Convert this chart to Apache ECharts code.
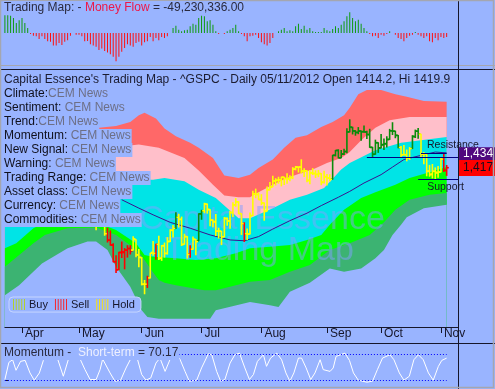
<!DOCTYPE html>
<html><head><meta charset="utf-8">
<script src="https://cdn.jsdelivr.net/npm/echarts@6.0.0/dist/echarts.min.js"></script>
<style>html,body{margin:0;padding:0;background:#99b4ff;overflow:hidden}#c{width:495px;height:389px}</style>
</head><body><div id="c"></div>
<script>
// ---------- DATA ----------
const X_MAX = 159;                       // trading-day slots on the x axis (last data day = 155)
const monthStartIdx = [6, 26, 48, 69, 90, 113, 132, 153];
const monthNames = ['Apr', 'May', 'Jun', 'Jul', 'Aug', 'Sep', 'Oct', 'Nov'];

// Money flow (millions), one bar per trading day 0..155
const moneyFlow = [212,212,208,180,120,152,180,120,60,-12,
-32,-40,-72,-40,-72,-100,-105,-150,-150,-120,
-144,-105,-88,-32,0,-20,-20,-40,-100,-96,
-135,-150,-165,-204,-186,-216,-234,-255,-285,-340,
-285,-225,-180,-135,-150,-165,-120,-105,-150,-112,
-100,-48,-100,-60,-88,-48,-60,-40,0,60,
88,40,20,32,40,80,112,100,180,208,
200,140,152,100,20,-12,0,-12,20,40,
60,100,20,-12,-40,-100,-40,-32,-20,-60,
-112,-135,-150,-120,-60,0,20,40,60,20,
32,20,80,112,48,88,40,60,20,12,
12,12,60,32,20,48,80,60,100,140,
200,248,180,140,160,112,60,20,-12,-40,
-32,-60,-20,-32,-12,20,0,-20,-60,-72,
-100,-60,-32,-20,12,-20,-40,-60,-40,-100,
-112,-60,-88,-48,-60,-49.2];

// Price bars (day 26 = May 1 ... day 155 = Nov 5)
const FIRST_BAR = 26;
const opens = [1397.9,1405.5,1402.3,1391.5,1368.8,1369.2,1363.2,1354.6,1358.1,1351.9,
1338.4,1330.8,1324.8,1305.1,1295.7,1316.1,1316.0,1318.7,1320.8,1318.9,
1331.3,1313.1,1309.9,1278.3,1277.8,1285.6,1316.1,1314.99,1325.7,1309.4,
1324.0,1314.9,1329.2,1342.4,1344.8,1358.0,1355.4,1325.9,1334.9,1314.1,
1320.0,1331.5,1330.1,1362.3,1365.8,1373.7,1367.1,1354.7,1352.96,1341.4,
1341.3,1334.8,1356.5,1353.7,1363.6,1373.0,1376.5,1362.3,1350.5,1338.4,
1338.2,1360.1,1385.9,1385.3,1379.3,1375.1,1365.5,1391.0,1394.5,1401.2,
1402.3,1402.6,1405.9,1404.4,1403.9,1405.6,1415.8,1417.9,1418.1,1413.1,
1413.5,1401.99,1411.1,1410.4,1409.3,1410.1,1400.1,1406.5,1404.9,1403.7,
1432.1,1437.9,1429.1,1433.6,1436.6,1460.1,1465.4,1461.2,1459.5,1461.1,
1460.3,1459.8,1456.9,1441.6,1433.4,1447.1,1440.9,1444.99,1446.1,1451.1,
1461.4,1460.9,1455.9,1441.5,1432.8,1432.8,1428.8,1440.3,1454.2,1460.9,
1457.3,1433.2,1433.7,1413.2,1409.7,1412.97,1410.99,1412.2,1427.6,1414.0];
const highs = [1415.3,1405.5,1403.1,1391.5,1373.9,1369.2,1363.7,1365.9,1365.7,1351.9,
1344.9,1341.8,1326.4,1312.2,1316.4,1328.5,1320.7,1324.1,1324.2,1334.9,
1331.3,1319.7,1309.9,1282.6,1287.6,1315.1,1329.1,1325.8,1335.5,1324.3,
1327.3,1333.7,1343.3,1348.2,1363.5,1361.6,1358.3,1337.8,1334.9,1324.2,
1334.4,1331.5,1362.2,1366.4,1374.8,1373.9,1367.1,1354.9,1361.5,1345.0,
1341.3,1357.7,1357.3,1365.4,1375.3,1380.4,1376.5,1362.3,1351.5,1344.0,
1363.1,1389.2,1391.7,1387.2,1385.0,1375.1,1394.2,1399.6,1407.1,1404.1,
1405.9,1406.0,1405.9,1410.0,1407.7,1417.4,1418.7,1418.1,1426.7,1416.1,
1413.5,1413.5,1416.2,1413.6,1414.0,1410.1,1413.1,1409.3,1408.8,1432.1,
1437.9,1438.7,1437.8,1439.2,1463.8,1474.5,1465.6,1461.5,1465.2,1461.2,
1467.1,1460.7,1463.2,1441.6,1450.2,1447.1,1457.1,1451.5,1454.3,1463.1,
1471.0,1460.9,1455.9,1442.5,1443.9,1438.4,1441.3,1455.5,1462.2,1464.0,
1457.3,1435.5,1433.7,1420.0,1421.1,1417.1,1418.8,1428.4,1434.3,1419.9];
const lows = [1395.7,1393.9,1388.7,1367.9,1365.0,1347.8,1343.1,1354.6,1348.9,1336.6,
1328.5,1324.8,1304.9,1292.0,1295.7,1310.0,1296.5,1310.5,1314.2,1318.9,
1310.8,1298.9,1277.3,1266.7,1274.2,1285.6,1312.7,1307.8,1307.7,1306.6,
1310.5,1314.1,1329.2,1334.5,1344.8,1346.5,1324.4,1325.9,1309.3,1310.3,
1320.0,1313.3,1330.1,1355.7,1363.5,1363.0,1348.0,1346.7,1336.3,1333.2,
1325.4,1334.8,1348.5,1345.1,1359.0,1371.2,1362.2,1337.6,1329.2,1331.5,
1338.2,1360.1,1381.4,1379.2,1373.1,1354.6,1365.5,1391.0,1394.5,1396.6,
1398.8,1395.6,1397.3,1398.6,1401.6,1404.2,1414.7,1412.1,1410.9,1406.8,
1400.5,1398.0,1409.1,1405.6,1406.6,1397.0,1399.0,1396.6,1401.3,1403.7,
1431.4,1429.1,1429.1,1433.0,1435.3,1460.1,1457.6,1456.1,1457.9,1450.0,
1459.5,1452.1,1441.6,1430.5,1433.4,1435.6,1440.9,1439.0,1442.0,1451.1,
1456.9,1453.1,1441.2,1430.6,1432.8,1425.5,1427.2,1440.3,1453.4,1452.6,
1429.9,1422.1,1407.6,1407.1,1405.1,1403.3,1406.0,1412.2,1412.9,1408.1];
const closes = [1405.8,1402.3,1391.6,1369.1,1369.6,1363.7,1354.6,1358.0,1353.4,1338.4,
1330.7,1325.0,1304.9,1295.2,1316.0,1316.6,1318.9,1320.7,1317.8,1332.4,
1313.3,1310.3,1278.0,1278.2,1285.5,1315.1,1315.0,1325.7,1308.9,1324.2,
1314.9,1329.1,1342.8,1344.8,1358.0,1355.7,1325.5,1335.0,1313.7,1320.0,
1331.9,1329.0,1362.2,1365.5,1374.0,1367.6,1354.7,1352.5,1341.5,1341.5,
1334.8,1356.8,1353.6,1363.7,1372.8,1376.5,1362.7,1350.5,1338.3,1337.9,
1360.0,1386.0,1385.3,1379.3,1375.3,1365.0,1391.0,1394.2,1401.4,1402.2,
1402.8,1405.9,1404.1,1403.9,1405.5,1415.5,1418.2,1418.1,1413.2,1413.5,
1402.1,1411.1,1410.4,1409.3,1410.5,1399.5,1406.6,1404.9,1403.4,1432.1,
1437.9,1429.1,1433.6,1436.6,1460.0,1465.8,1461.2,1459.3,1461.1,1460.3,
1460.2,1456.9,1441.6,1433.3,1447.2,1440.7,1444.5,1445.8,1451.0,1461.4,
1460.9,1455.9,1441.5,1432.6,1432.8,1428.6,1440.1,1454.9,1460.9,1457.3,
1433.2,1433.8,1413.1,1408.8,1413.0,1411.9,1412.2,1427.6,1414.2,1417.3];
// Signal of each bar, as runs: B = Buy, S = Sell, H = Hold
const signalRuns = [['H',10],['S',9],['H',5],['S',1],['H',2],['S',1],['H',6],['B',1],['H',4],['S',1],
['H',2],['B',2],['H',14],['S',1],['H',30],['B',24],['H',4],['B',3],['H',8],['S',2]];

// Band boundaries [day, price], top to bottom
const bandRedTop = [[0,1465],[33,1465],[39,1467],[44,1472],[47,1480],[49,1483],[53,1476],[56,1464],[60,1455],[65,1447],[68,1441],[73,1429],[77,1408],[82,1405],[86,1409],[89,1417],[94,1427],[98,1441],[102,1453],[106,1456],[111,1466],[115,1472],[119,1480],[121,1489],[124,1505],[127,1510],[132,1510],[137,1505],[141,1502],[147,1497],[155,1496]];
const bandPinkTop = [[0,1442],[39,1442],[47,1445],[54,1441],[63,1429],[68,1414],[73,1397],[77,1384],[82,1382],[86,1382],[89,1388],[94,1397],[99,1405],[104,1411],[108,1415],[113,1423],[118,1429],[121,1436],[125,1450],[130,1465],[135,1474],[142,1478],[155,1478]];
const bandCyanTop = [[0,1403],[39,1403],[52,1403],[56,1405],[63,1401],[68,1391],[74,1381],[82,1357],[86,1357],[94,1369],[100,1379],[106,1385],[112,1393],[118,1415],[121,1423],[130,1438],[139,1447],[146,1450],[155,1454]];
const bandGreenTop = [[0,1321],[4,1327],[7,1336],[10,1345],[16,1355],[23,1361],[32,1352],[39,1343],[46,1327],[49,1313],[52,1311],[60,1309],[67,1307],[74,1309],[81,1315],[86,1321],[93,1323],[100,1325],[106,1331],[111,1337],[114,1349],[119,1367],[125,1381],[130,1388],[137,1397],[142,1405],[149,1412],[155,1418]];
const bandDarkTop = [[0,1299],[5,1313],[10,1327],[14,1337],[22,1345],[32,1346],[39,1337],[43,1327],[47,1317],[49,1307],[52,1292],[54,1283],[56,1280],[60,1277],[70,1271],[74,1271],[86,1281],[93,1283],[100,1293],[107,1301],[114,1319],[121,1327],[128,1337],[133,1352],[137,1367],[142,1379],[149,1385],[155,1387]];
const bandDarkBottom = [[0,1265],[5,1277],[13,1303],[22,1321],[29,1329],[32,1329],[36,1319],[39,1299],[44,1275],[48,1247],[50,1239],[54,1237],[72,1237],[74,1247],[86,1257],[93,1253],[96,1251],[100,1269],[107,1280],[114,1297],[119,1293],[125,1297],[130,1309],[133,1319],[136,1337],[139,1349],[141,1358],[147,1369],[155,1373]];

// Moving average line [day, price]
const maLine = [[41,1379],[47,1369],[52,1361],[58,1352],[65,1345],[72,1337],[79,1331],[84,1330],[89,1335],[94,1344],[100,1354],[106,1363],[111,1372],[117,1382],[121,1389],[126,1399],[132,1409],[136,1418],[140,1427],[146,1432],[151,1436],[155,1435]];

// Levels
const pivotLine = [[127,1430],[159,1430]];
const resistanceLine = [[146,1434],[155,1434]];
const supportLine = [[145,1403],[159,1403]];
const priceTags = [1434, 1417];

// Momentum (short-term) vertices [day, value]
const momentum = [[0,21.5],[1.4,60.5],[2.7,66.5],[3.9,42.5],[5.5,62.8],[7.1,65],[8.8,36.5],[10.3,20],[12.1,36.5],[13.5,65],[15.8,81.5],[18.4,70.3],[20.5,29],[22.3,68],[24.2,81.5],[26.4,68],[28.1,44],[29.9,21.5],[32,21.5],[33.4,44],[34.3,68],[36.9,36.5],[38.6,17.8],[40.6,20],[42.5,47.8],[44.1,68],[45.1,81.5],[46.5,68],[48,32.8],[49.5,20],[51.2,25.3],[53,59],[54.4,70.3],[56.2,40],[57.9,66.5],[59.7,81.5],[61.4,68],[63.2,40],[64.7,17.8],[67.3,20],[69,47.8],[71.4,80],[72.6,77.8],[74.3,40],[75.7,17.8],[77.2,21.5],[79,59],[80.7,77.8],[82.3,81.5],[84.2,47.8],[85.8,21.5],[87.2,32.8],[88.6,62.8],[90.7,77.8],[91.8,51.5],[93.2,70.3],[95.4,81.5],[97.1,66.5],[98.6,36.5],[100,17.8],[101.4,36.5],[103,70.3],[104.1,70.3],[105.7,47.8],[107.3,21.5],[108.8,36.5],[110.6,66.5],[111.7,44],[114.1,40],[115.2,47.8],[116.2,74],[119.3,81.5],[120.9,65],[122.3,36.5],[124,20],[127,15.5],[129,17.8],[130.7,44],[132.5,70.3],[135.1,77.8],[136.5,66.5],[138.4,36.5],[140,20],[141.9,29],[143.5,66.5],[145.1,77.8],[146.8,66.5],[148.6,36.5],[150.3,20],[152.1,51.5],[153.3,65],[155,70.17]];
const momentumLevels = [20, 80];

// Text
const infoRows = [['Climate:','CEM News'],['Sentiment: ','CEM News'],['Trend:','CEM News'],['Momentum: ','CEM News'],['New Signal: ','CEM News'],['Warning: ','CEM News'],['Trading Range: ','CEM News'],['Asset class: ','CEM News'],['Currency: ','CEM News'],['Commodities: ','CEM News']];

// ---------- BUILD ----------
const FONT = '"Liberation Sans", Arial, sans-serif';
const BG = '#99b4ff';
const DARK = '#16162a';
const categories = Array.from({length: X_MAX + 1}, (_, i) => String(i));
const isMonthStart = (idx) => monthStartIdx.indexOf(idx) >= 0;

const signals = [];
signalRuns.forEach(([s, n]) => { for (let k = 0; k < n; k++) signals.push(s); });
const barData = {B: [], S: [], H: []};
opens.forEach((o, k) => { barData[signals[k]].push([FIRST_BAR + k, o, highs[k], lows[k], closes[k]]); });

function renderOHLC(params, api) {
  const i = api.value(0);
  const o = api.coord([i, api.value(1)]);
  const h = api.coord([i, api.value(2)]);
  const l = api.coord([i, api.value(3)]);
  const c = api.coord([i, api.value(4)]);
  const st = {stroke: api.visual('color'), lineWidth: 1.6};
  return {type: 'group', children: [
    {type: 'line', shape: {x1: h[0], y1: h[1] - 0.5, x2: l[0], y2: l[1] + 0.5}, style: st},
    {type: 'line', shape: {x1: o[0] - 2.2, y1: o[1], x2: o[0], y2: o[1]}, style: st},
    {type: 'line', shape: {x1: c[0], y1: c[1], x2: c[0] + 2.2, y2: c[1]}, style: st}
  ]};
}
function ohlcSeries(name, key, color) {
  return {name, type: 'custom', xAxisIndex: 1, yAxisIndex: 1, z: 4, data: barData[key],
    itemStyle: {color}, encode: {x: 0, y: [1, 2, 3, 4]}, renderItem: renderOHLC, silent: true};
}
function band(data, color) {
  return {type: 'line', xAxisIndex: 1, yAxisIndex: 1, data, symbol: 'none', z: 1, silent: true,
    lineStyle: {width: 0}, areaStyle: {color, opacity: 1, origin: 'start'}};
}

const barsIcon = 'path://M0,0h1v12h-1z M3,0h1v12h-1z M6,0h1v12h-1z M9,0h1v12h-1z M12,0h1v12h-1z';
const tagLabel = (text, bg, fg, pad) => ({show: true, position: 'end', distance: 1, formatter: text,
  backgroundColor: bg, color: fg, fontSize: 12, fontFamily: FONT, padding: pad, lineHeight: 12});

const option = {
  animation: false,
  backgroundColor: BG,
  grid: [
    {left: 4.9, top: 8, width: 453.15, height: 57},
    {left: 4.9, top: 70, width: 453.15, height: 257},
    {left: 4.9, top: 345, width: 453.15, height: 44.5}
  ],
  xAxis: [
    {type: 'value', gridIndex: 0, min: 0, max: X_MAX, show: false},
    {type: 'value', gridIndex: 1, min: 0, max: X_MAX, show: false, position: 'top'},
    {type: 'category', gridIndex: 1, data: categories, boundaryGap: false, position: 'bottom',
      axisLine: {lineStyle: {color: DARK, width: 1}},
      axisTick: {interval: isMonthStart, length: 6, lineStyle: {color: DARK}},
      axisLabel: {interval: isMonthStart, formatter: v => monthNames[monthStartIdx.indexOf(+v)] || '',
        align: 'left', padding: [0, 0, 0, 3], margin: 1, color: DARK, fontSize: 12, fontFamily: FONT},
      splitLine: {show: false}},
    {type: 'value', gridIndex: 2, min: 0, max: X_MAX, show: false}
  ],
  yAxis: [
    {type: 'value', gridIndex: 0, min: -384, max: 300, show: false},
    {type: 'value', gridIndex: 1, min: 1227, max: 1534, show: false},
    {type: 'value', gridIndex: 2, min: 0, max: 100, position: 'right',
      axisLine: {show: false}, axisLabel: {show: false}, splitLine: {show: false},
      axisTick: {show: true, customValues: momentumLevels, length: 4, lineStyle: {color: DARK}}}
  ],
  legend: {
    left: 9, top: 297, itemWidth: 12, itemHeight: 12, itemGap: 7, selectedMode: false, z: 6,
    padding: [2, 6, 2, 4], borderColor: '#c6d6ff', borderWidth: 1, borderRadius: 4,
    backgroundColor: BG, textStyle: {fontSize: 11, color: DARK, fontFamily: FONT, padding: [0, 0, 0, -1]},
    data: [
      {name: 'Buy', icon: barsIcon, itemStyle: {color: '#b4d41c'}},
      {name: 'Sell', icon: barsIcon, itemStyle: {color: '#ff1a1a'}},
      {name: 'Hold', icon: barsIcon, itemStyle: {color: '#ffe600'}}
    ]
  },
  series: [
    {type: 'bar', xAxisIndex: 0, yAxisIndex: 0, barWidth: 1, silent: true,
      data: moneyFlow.map((v, i) => [i, v]),
      itemStyle: {color: p => p.value[1] >= 0 ? '#0e9a0e' : '#ff1010'}},
    band(bandRedTop, '#ff6868'),
    band(bandPinkTop, '#ffbfca'),
    band(bandCyanTop, '#00e4e6'),
    band(bandGreenTop, '#00ff00'),
    band(bandDarkTop, '#3cb372'),
    band(bandDarkBottom, BG),
    {type: 'line', xAxisIndex: 1, yAxisIndex: 1, data: maLine, symbol: 'none', z: 3, silent: true,
      lineStyle: {color: '#3a1490', width: 1},
      markLine: {
        symbol: ['none', 'none'], silent: true, animation: false,
        lineStyle: {color: '#000080', width: 1, type: 'solid'},
        label: {show: false},
        data: [
          [{coord: pivotLine[0]}, {coord: pivotLine[1]}],
          [{coord: resistanceLine[0], label: {show: true, formatter: 'Resistance', position: 'insideStartTop',
              distance: [6, 3], color: DARK, fontSize: 10.5, fontFamily: FONT}}, {coord: resistanceLine[1]}],
          [{coord: supportLine[0], label: {show: true, formatter: 'Support', position: 'insideStartBottom',
              distance: [9, 2], color: DARK, fontSize: 10.5, fontFamily: FONT}}, {coord: supportLine[1]}],
          {yAxis: priceTags[0], lineStyle: {color: 'rgba(0,0,0,0)', width: 0},
            label: tagLabel('1,434', '#50087e', '#ffffff', [1, 10, 0, 4])},
          {yAxis: priceTags[1], lineStyle: {color: 'rgba(0,0,0,0)', width: 0},
            label: tagLabel('1,417', '#ff0000', '#101020', [2, 10, 2, 4])}
        ]
      }},
    ohlcSeries('Buy', 'B', '#0a8c0a'),
    ohlcSeries('Sell', 'S', '#ff0000'),
    ohlcSeries('Hold', 'H', '#ffff00'),
    {type: 'line', xAxisIndex: 3, yAxisIndex: 2, data: momentum, symbol: 'none', silent: true, z: 3,
      lineStyle: {color: '#ffffff', width: 1},
      markLine: {symbol: ['none', 'none'], silent: true, label: {show: false},
        lineStyle: {color: '#0000ff', width: 1, type: [1, 2]},
        data: momentumLevels.map(v => [{coord: [0, v]}, {coord: [155, v]}])}}
  ],
  graphic: {elements: [
    // watermark
    {type: 'text', x: 262, y: 220, z: 2, silent: true,
      style: {text: 'Capital Essence', font: '34px ' + FONT, fill: 'rgba(130,160,255,0.5)', align: 'center', verticalAlign: 'middle'}},
    {type: 'text', x: 259, y: 251, z: 2, silent: true,
      style: {text: 'Trading Map', font: '34px ' + FONT, fill: 'rgba(130,160,255,0.5)', align: 'center', verticalAlign: 'middle'}},
    // panel frame lines
    {type: 'line', z: 50, silent: true, shape: {x1: 0, y1: 65.5, x2: 495, y2: 65.5}, style: {stroke: '#a4a6b0', lineWidth: 1}},
    {type: 'line', z: 50, silent: true, shape: {x1: 0, y1: 69.5, x2: 495, y2: 69.5}, style: {stroke: DARK, lineWidth: 1}},
    {type: 'line', z: 50, silent: true, shape: {x1: 0, y1: 343.5, x2: 495, y2: 343.5}, style: {stroke: DARK, lineWidth: 1}},
    {type: 'line', z: 50, silent: true, shape: {x1: 458.5, y1: 0, x2: 458.5, y2: 389}, style: {stroke: DARK, lineWidth: 1}},
    {type: 'rect', z: 50, silent: true, shape: {x: 0.5, y: 0.5, width: 493, height: 387}, style: {fill: null, stroke: '#a4a6b0', lineWidth: 1.5}},
    // titles
    {type: 'text', x: 3, y: 1, z: 100, silent: true,
      style: {text: '{a|Trading Map: - }{r|Money Flow}{a| = -49,230,336.00}', backgroundColor: BG, padding: [1, 1, 1, 1],
        rich: {a: {fill: '#2a2a3e', font: '12px ' + FONT}, r: {fill: '#ec1848', font: '12px ' + FONT}}}},
    {type: 'text', x: 3, y: 73, z: 100, silent: true,
      style: {text: "Capital Essence's Trading Map - ^GSPC - Daily 05/11/2012 Open 1414.2, Hi 1419.9",
        font: '12px ' + FONT, fill: '#1c1c30', backgroundColor: BG, padding: [1, 1, 1, 1], width: 452, overflow: 'truncate', ellipsis: ''}},
    ...infoRows.map((r, k) => ({type: 'text', x: 3, y: 87 + 14 * k, z: 100, silent: true,
      style: {text: '{a|' + r[0] + '}{b|' + r[1] + '}', backgroundColor: BG, padding: [1, 1, 1, 1],
        rich: {a: {fill: '#10101c', font: '12px ' + FONT}, b: {fill: '#6d6f86', font: '12px ' + FONT}}}})),
    {type: 'text', x: 3, y: 346, z: 100, silent: true,
      style: {text: '{a|Momentum -  }{w|Short-term}{a| = 70.17}', backgroundColor: BG, padding: [1, 1, 1, 1],
        rich: {a: {fill: '#2a2a3e', font: '12px ' + FONT}, w: {fill: '#eef0ff', font: '12px ' + FONT}}}}
  ]}
};

const chart = echarts.init(document.getElementById('c'), null, {renderer: 'canvas'});
chart.setOption(option);
</script></body></html>
